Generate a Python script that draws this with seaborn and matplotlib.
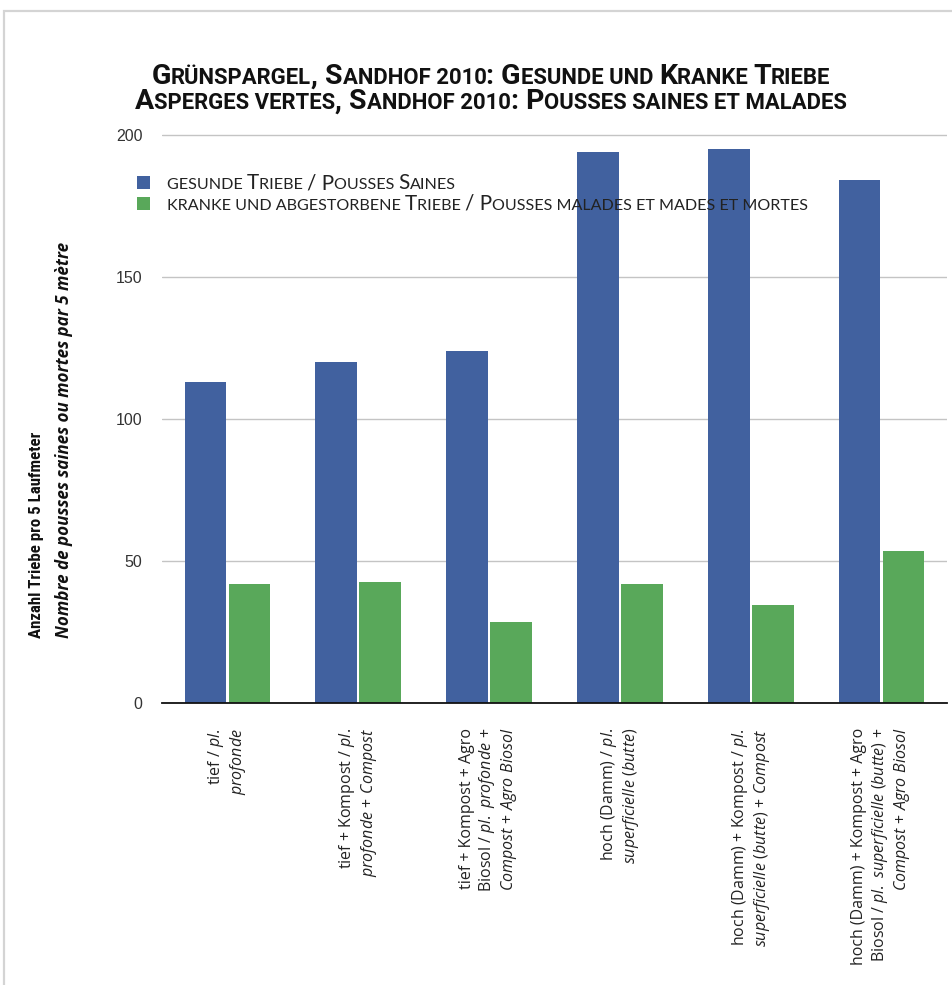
import matplotlib
matplotlib.use('Agg')
import pandas as pd
import seaborn as sns
import matplotlib.pyplot as plt
from matplotlib import font_manager
from matplotlib.font_manager import FontProperties
from matplotlib.transforms import IdentityTransform
from matplotlib.patches import Rectangle

# data
treatments = ['tief', 'tief + Kompost', 'tief + Kompost + Agro Biosol',
              'hoch (Damm)', 'hoch (Damm) + Kompost', 'hoch (Damm) + Kompost + Agro Biosol']
series_names = ['gesunde Triebe / Pousses Saines',
                'kranke und abgestorbene Triebe / Pousses malades et mades et mortes']
healthy = [113, 120, 124, 194, 195, 184]
diseased = [42, 42.5, 28.5, 42, 34.5, 53.5]

tick_labels = [
    "tief / $\\mathit{pl.}$\n$\\mathit{profonde}$",
    "tief + Kompost / $\\mathit{pl.}$\n$\\mathit{profonde\\ {+}\\ Compost}$",
    "tief + Kompost + Agro\nBiosol / $\\mathit{pl.\\ profonde\\ {+}}$\n$\\mathit{Compost\\ {+}\\ Agro\\ Biosol}$",
    "hoch (Damm) / $\\mathit{pl.}$\n$\\mathit{superficielle\\ (butte)}$",
    "hoch (Damm) + Kompost / $\\mathit{pl.}$\n$\\mathit{superficielle\\ (butte)\\ {+}\\ Compost}$",
    "hoch (Damm) + Kompost + Agro\nBiosol / $\\mathit{pl.\\ superficielle\\ (butte)\\ {+}}$\n$\\mathit{Compost\\ {+}\\ Agro\\ Biosol}$",
]
title_lines = ['Grünspargel, Sandhof 2010: Gesunde und Kranke Triebe',
               'Asperges vertes, Sandhof 2010: Pousses saines et malades']
ylabel_de = 'Anzahl Triebe pro 5 Laufmeter'
ylabel_fr = 'Nombre de pousses saines ou mortes par 5 mètre'

blue = '#41619f'
green = '#59a85a'

W, H = 953, 985

sns.set_theme(style='white')
plt.rcParams['font.family'] = ['Open Sans', 'DejaVu Sans']
plt.rcParams['mathtext.fontset'] = 'custom'
plt.rcParams['mathtext.rm'] = 'Open Sans'
plt.rcParams['mathtext.it'] = 'Open Sans:italic'
plt.rcParams['mathtext.bf'] = 'Open Sans:bold'

installed = {f.name for f in font_manager.fontManager.ttflist}
narrow = next((f for f in ['Liberation Sans Narrow', 'Roboto Condensed',
                           'Open Sans Condensed', 'Roboto'] if f in installed), 'DejaVu Sans')
title_font = 'Roboto' if 'Roboto' in installed else 'DejaVu Sans'
legend_font = 'Lato' if 'Lato' in installed else 'Open Sans'

fig = plt.figure(figsize=(W / 100, H / 100), dpi=100)
ax = fig.add_axes([162 / W, 1 - 703 / H, 785 / W, 570 / H])

df = pd.DataFrame({
    'treatment': treatments * 2,
    'series': [series_names[0]] * 6 + [series_names[1]] * 6,
    'count': healthy + diseased,
})

sns.barplot(data=df, x='treatment', y='count', hue='series', hue_order=series_names,
            palette=[blue, green], saturation=1, width=0.674, gap=0.056,
            linewidth=0, legend=False, ax=ax)

ax.set_xlim(-0.5, 5.5)
ax.set_ylim(0, 200.6)
ax.set_yticks([0, 50, 100, 150, 200])
ax.yaxis.grid(True, color='#c4c4c4', lw=1)
ax.set_axisbelow(True)
ax.set_xlabel('')
ax.set_ylabel('')
for s in ['left', 'right', 'top']:
    ax.spines[s].set_visible(False)
ax.spines['bottom'].set_color('#111111')
ax.spines['bottom'].set_linewidth(1.3)

ax.tick_params(axis='y', length=0, pad=14, labelsize=11.5, labelcolor='#333333')
for lbl in ax.get_yticklabels():
    lbl.set_fontfamily('Liberation Sans')
ax.set_xticks(range(6))
ax.set_xticklabels(tick_labels, rotation=90, ha='center', va='top',
                   multialignment='right', fontsize=11.5, linespacing=1.15,
                   color='#222222')
ax.tick_params(axis='x', length=0, pad=18)

renderer = fig.canvas.get_renderer()


def text_width(s, prop):
    w0 = renderer.get_text_width_height_descent('||', prop, ismath=False)[0]
    w1 = renderer.get_text_width_height_descent('|' + s + '|', prop, ismath=False)[0]
    return w1 - w0


def sc_runs(s):
    runs = []
    for ch in s:
        if ch == ' ' and runs:
            runs[-1][0] += ch
            continue
        small = ch.islower() or ch.isdigit()
        if runs and runs[-1][1] == small:
            runs[-1][0] += ch
        else:
            runs.append([ch, small])
    return [(t.upper() if sm else t, sm) for t, sm in runs]


def sc_width(s, size, ratio, **font):
    return sum(text_width(t, FontProperties(size=size * (ratio if sm else 1), **font))
               for t, sm in sc_runs(s))


def smallcaps(s, x, y, size, ha='left', ratio=0.78, color='#111111', **font):
    tw = sc_width(s, size, ratio, **font)
    x0 = x - tw / 2 if ha == 'center' else x
    for t, sm in sc_runs(s):
        prop = FontProperties(size=size * (ratio if sm else 1), **font)
        fig.text(x0, H - y, t, fontproperties=prop, transform=IdentityTransform(),
                 ha='left', va='baseline', color=color)
        x0 += text_width(t, prop)


# title
tfont = dict(family=[title_font, 'DejaVu Sans'], weight='bold')
tsize = 20 * 713 / sc_width(title_lines[1], 20, 0.78, **tfont)
smallcaps(title_lines[0], 491, 84, tsize, ha='center', **tfont)
smallcaps(title_lines[1], 491, 109, tsize, ha='center', **tfont)

# legend
lfont = dict(family=[legend_font, 'DejaVu Sans'])
lsize = 20 * 641 / sc_width(series_names[1], 20, 0.78, **lfont)
smallcaps(series_names[0], 167, 189, lsize, color='#222222', **lfont)
smallcaps(series_names[1], 167, 210, lsize, color='#222222', **lfont)
for yy, col in [(176, blue), (197, green)]:
    fig.add_artist(Rectangle((137, H - yy - 13), 13, 13, transform=IdentityTransform(),
                             facecolor=col, edgecolor='none'))

# y axis label, two lines
p_de = dict(family=[narrow, 'DejaVu Sans'], weight='bold')
p_fr = dict(family=['Open Sans', 'DejaVu Sans'], weight='bold', style='italic')
s_de = 20 * 205 / text_width(ylabel_de, FontProperties(size=20, **p_de))
s_fr = 20 * 396 / text_width(ylabel_fr, FontProperties(size=20, **p_fr))
fig.text(36, H - 638, ylabel_de, fontproperties=FontProperties(size=s_de, **p_de),
         rotation=90, rotation_mode='anchor', ha='left', va='center',
         transform=IdentityTransform(), color='#111111')
fig.text(64, H - 638, ylabel_fr, fontproperties=FontProperties(size=s_fr, **p_fr),
         rotation=90, rotation_mode='anchor', ha='left', va='center',
         transform=IdentityTransform(), color='#111111')

# light frame around the chart
fig.add_artist(Rectangle((3.5, -20), 2000, H - 11 + 20, transform=IdentityTransform(),
                         fill=False, edgecolor='#d4d4d4', lw=1.6))

fig.savefig('out.png', dpi=100)
